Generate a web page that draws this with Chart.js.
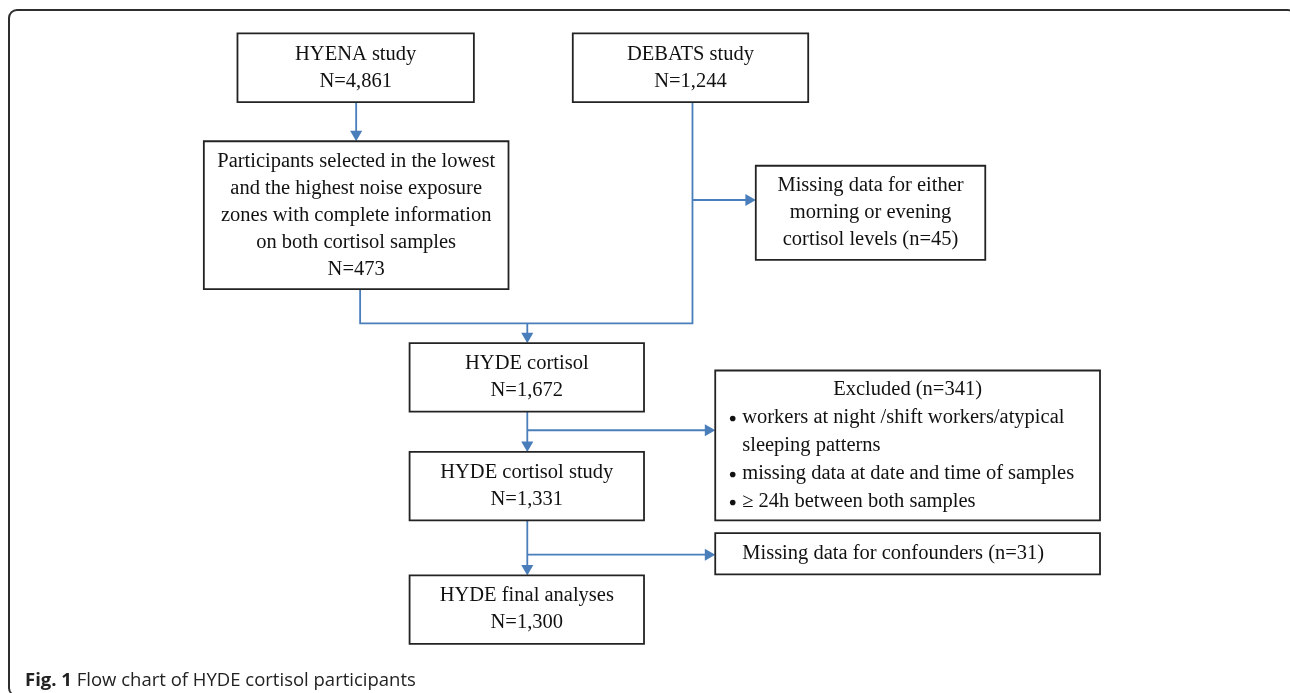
<!DOCTYPE html>
<html lang="en">
<head>
    <meta charset="UTF-8">
    <title>Flow chart of HYDE cortisol participants</title>
    <style>
        body {
            margin: 0;
            background: #fff;
            overflow: hidden;
        }
        .frame {
            position: absolute;
            left: 8px;
            top: 9px;
            width: 1289px;
            height: 688px;
            border: 2px solid #2e2e2e;
            border-radius: 9px;
            box-sizing: border-box;
        }
        #flow {
            position: absolute;
            left: 0;
            top: 0;
        }
        .caption {
            position: absolute;
            left: 25px;
            top: 667px;
            font-family: "Open Sans", sans-serif;
            font-size: 18.5px;
            line-height: 24px;
            color: #222;
        }
    </style>
</head>
<body>
    <div class="frame"></div>
    <canvas id="flow" width="1290" height="693"></canvas>
    <div class="caption"><b>Fig. 1</b> Flow chart of HYDE cortisol participants</div>

    <script src="https://cdn.jsdelivr.net/npm/chart.js"></script>
    <script>
        // Stages of the study (main column)
        const stageLabels = [
            ['HYENA study'],
            ['DEBATS study'],
            ['Participants selected in the lowest', 'and the highest noise exposure', 'zones with complete information', 'on both cortisol samples'],
            ['HYDE cortisol'],
            ['HYDE cortisol study'],
            ['HYDE final analyses']
        ];
        const stageCounts = [4861, 1244, 473, 1672, 1331, 1300];

        // Exclusions (side boxes)
        const exclusionTitles = [
            ['Missing data for either', 'morning or evening', 'cortisol levels'],
            ['Excluded'],
            ['Missing data for confounders']
        ];
        const exclusionCounts = [45, 341, 31];
        const exclusionReasons = [
            ['workers at night /shift workers/atypical', 'sleeping patterns'],
            ['missing data at date and time of samples'],
            ['\u2265 24h between both samples']
        ];

        // Layout in chart units (1 unit = 1 px): [left, right, top, bottom]
        const stageBoxes = [
            [233, 472, 27, 97],
            [572, 810, 27, 97],
            [199, 507, 137, 288],
            [407, 644, 343, 413],
            [407, 644, 454, 524],
            [407, 644, 580, 650]
        ];
        const exclusionBoxes = [
            [757, 989, 162, 258],
            [716, 1105, 371, 524],
            [716, 1105, 537, 579]
        ];
        // connectors: polyline points, arrow rotation at the end (null = none)
        const links = [
            { pts: [[353, 97], [353, 137]], arrow: 180 },
            { pts: [[357, 288], [357, 323], [693, 323], [693, 97]], arrow: null },
            { pts: [[526, 323], [526, 343]], arrow: 180 },
            { pts: [[693, 197], [757, 197]], arrow: 90 },
            { pts: [[526, 413], [526, 454]], arrow: 180 },
            { pts: [[526, 432], [716, 432]], arrow: 90 },
            { pts: [[526, 524], [526, 580]], arrow: 180 },
            { pts: [[526, 559], [716, 559]], arrow: 90 }
        ];

        const boxColor = '#232323';
        const arrowColor = '#4a7ebb';
        const headR = 7;
        const fmt = n => n.toLocaleString('en-US');

        function boxDataset(b) {
            return {
                data: [
                    { x: b[0], y: b[2] }, { x: b[1], y: b[2] },
                    { x: b[1], y: b[3] }, { x: b[0], y: b[3] }, { x: b[0], y: b[2] }
                ],
                showLine: true,
                borderColor: boxColor,
                borderWidth: 1.8,
                borderJoinStyle: 'miter',
                borderCapStyle: 'square',
                pointRadius: 0
            };
        }

        function linkDataset(l) {
            const pts = l.pts.map(p => ({ x: p[0], y: p[1] }));
            if (l.arrow !== null) {
                // move last point back so the triangle tip touches the box
                const a = pts[pts.length - 2], b = pts[pts.length - 1];
                const len = Math.hypot(b.x - a.x, b.y - a.y);
                b.x -= (b.x - a.x) / len * headR;
                b.y -= (b.y - a.y) / len * headR;
            }
            const last = pts.length - 1;
            return {
                data: pts,
                showLine: true,
                borderColor: arrowColor,
                backgroundColor: arrowColor,
                borderWidth: 1.8,
                pointStyle: 'triangle',
                pointRadius: ctx => (l.arrow !== null && ctx.dataIndex === last) ? headR : 0,
                pointRotation: l.arrow || 0,
                pointBorderWidth: 0
            };
        }

        const boxText = {
            id: 'boxText',
            afterDatasetsDraw(chart) {
                const { ctx, scales: { x, y } } = chart;
                ctx.save();
                ctx.fillStyle = '#111';
                ctx.font = '20.5px "Liberation Serif", "Times New Roman", serif';
                ctx.textBaseline = 'middle';

                // main stages: centred lines
                stageLabels.forEach((lbl, i) => {
                    const b = stageBoxes[i];
                    const lines = lbl.concat('N=' + fmt(stageCounts[i]));
                    const cx = x.getPixelForValue((b[0] + b[1]) / 2);
                    const cy = y.getPixelForValue((b[2] + b[3]) / 2);
                    ctx.textAlign = 'center';
                    lines.forEach((t, k) => ctx.fillText(t, cx, cy + (k - (lines.length - 1) / 2) * 27));
                });

                // missing morning/evening
                let b = exclusionBoxes[0];
                let lines = exclusionTitles[0].slice();
                lines[lines.length - 1] += ' (n=' + fmt(exclusionCounts[0]) + ')';
                let cx = x.getPixelForValue((b[0] + b[1]) / 2);
                let cy = y.getPixelForValue((b[2] + b[3]) / 2);
                lines.forEach((t, k) => ctx.fillText(t, cx, cy + (k - (lines.length - 1) / 2) * 27));

                // excluded with bullets
                b = exclusionBoxes[1];
                const rows = [{ t: exclusionTitles[1][0] + ' (n=' + fmt(exclusionCounts[1]) + ')', title: true }];
                exclusionReasons.forEach(r => r.forEach((t, k) => rows.push({ t, bullet: k === 0 })));
                cx = x.getPixelForValue((b[0] + b[1]) / 2);
                cy = y.getPixelForValue((b[2] + b[3]) / 2);
                const left = x.getPixelForValue(b[0]);
                rows.forEach((r, k) => {
                    const ty = cy + (k - (rows.length - 1) / 2) * 28;
                    if (r.title) {
                        ctx.textAlign = 'center';
                        ctx.fillText(r.t, cx, ty);
                        return;
                    }
                    ctx.textAlign = 'left';
                    if (r.bullet) {
                        ctx.beginPath();
                        ctx.arc(left + 17.5, ty + 1, 2.8, 0, Math.PI * 2);
                        ctx.fill();
                    }
                    ctx.fillText(r.t, left + 27, ty);
                });

                // confounders
                b = exclusionBoxes[2];
                ctx.textAlign = 'left';
                ctx.fillText(exclusionTitles[2][0] + ' (n=' + fmt(exclusionCounts[2]) + ')',
                    x.getPixelForValue(b[0]) + 27, y.getPixelForValue((b[2] + b[3]) / 2));
                ctx.restore();
            }
        };

        new Chart(document.getElementById('flow'), {
            type: 'scatter',
            data: {
                datasets: stageBoxes.concat(exclusionBoxes).map(boxDataset).concat(links.map(linkDataset))
            },
            options: {
                responsive: false,
                animation: false,
                events: [],
                layout: { padding: 0 },
                plugins: { legend: { display: false }, tooltip: { enabled: false } },
                scales: {
                    x: { type: 'linear', min: 0, max: 1290, display: false },
                    y: { type: 'linear', min: 0, max: 693, reverse: true, display: false }
                }
            },
            plugins: [boxText]
        });
    </script>
</body>
</html>
